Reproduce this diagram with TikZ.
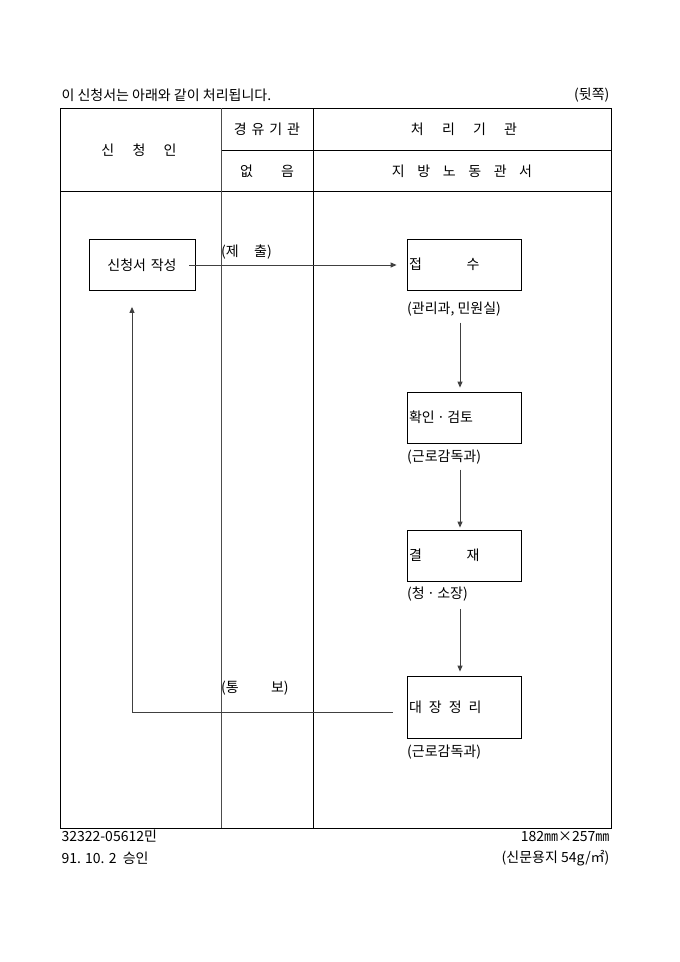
\documentclass[tikz,border=0pt]{standalone}
\usepackage{fontspec}
\setmainfont{Noto Sans CJK KR}
\usetikzlibrary{arrows.meta,positioning}

\begin{document}
\begin{tikzpicture}[x=1pt,y=-1pt,font=\fontsize{14}{16}\selectfont,
	stepbox/.style={draw,line width=.8pt,minimum width=114pt,minimum height=51pt,text width=110pt,align=left,inner xsep=2pt},
	flow/.style={line width=1pt,draw=black!75,-{Triangle[length=6pt,width=5pt]}}]
	\useasboundingbox (0,0) rectangle (680,962);

	% caption lines above and below the form
	\node[anchor=west] (title) at (58,95) {이 신청서는 아래와 같이 처리됩니다.};
	\node[anchor=east] (back) at (613,95) {(뒷쪽)};
	\node[anchor=west] (formno) at (58,836) {32322-05612민};
	\node[anchor=west] (approval) at (58,858) {91. 10. 2 \ 승인};
	\node[anchor=east] (papersize) at (613,836) {182㎜×257㎜};
	\node[anchor=east] (paper) at (613,858) {(신문용지 54g/㎡)};

	% form grid
	\draw[line width=.8pt] (60,108) rectangle (611,828);
	\draw[line width=.8pt] (60,191) -- (611,191);
	\draw[line width=.8pt] (221,150) -- (611,150);
	\draw[line width=.6pt,black!70] (221,108) -- (221,828);
	\draw[line width=.8pt] (313,108) -- (313,828);

	% header texts
	\node (applicant) at (139,150) {신\hspace{1.3em}청\hspace{1.3em}인};
	\node (via) at (267,129) {경\hspace{.35em}유\hspace{.35em}기\hspace{.35em}관};
	\node (none) at (267,171) {없\hspace{2em}음};
	\node (handler) at (464,129) {처\hspace{1.3em}리\hspace{1.3em}기\hspace{1.3em}관};
	\node (office) at (462,171) {지\hspace{.9em}방\hspace{.9em}노\hspace{.9em}동\hspace{.9em}관\hspace{.9em}서};

	% steps
	\node[stepbox,minimum width=106pt,text width=102pt,align=center] (write) at (142,265) {신청서 작성};
	\node[stepbox] (receive) at (464,264.5) {접\hspace{3.2em}수};
	\node[anchor=north west,inner sep=0pt] (receivedept) at (407,302) {(관리과, 민원실)};
	\node[stepbox] (review) at (464,417.5) {확인\,·\,검토};
	\node[anchor=north west,inner sep=0pt] (reviewdept) at (407,450) {(근로감독과)};
	\node[stepbox] (approve) at (464,555.5) {결\hspace{3.2em}재};
	\node[anchor=north west,inner sep=0pt] (approvedept) at (407,587) {(청\,·\,소장)};
	\node[stepbox,minimum height=62pt] (register) at (464,707) {대\hspace{.5em}장\hspace{.5em}정\hspace{.5em}리};
	\node[anchor=north west,inner sep=0pt] (registerdept) at (407,745) {(근로감독과)};

	% connectors
	\coordinate (lane) at (460,0);
	\draw[flow,shorten <=-6pt,shorten >=10pt] (write.east) -- (write.east -| receive.west);
	\node[anchor=south west,inner sep=0pt] (submit) at (221,259) {(제\hspace{1.1em}출)};
	\draw[flow,shorten <=6pt,shorten >=4pt] (receivedept.south -| lane) -- (review.north -| lane);
	\draw[flow,shorten <=5pt,shorten >=2pt] (reviewdept.south -| lane) -- (approve.north -| lane);
	\draw[flow,shorten <=7pt,shorten >=4pt] (approvedept.south -| lane) -- (register.north -| lane);
	\coordinate (backturn) at (132,712);
	\draw[flow,shorten <=14pt,shorten >=16pt] ([yshift=-5pt]register.west) -- (backturn) -- (write.south -| backturn);
	\node[anchor=south west,inner sep=0pt] (notify) at (221,695) {(통\hspace{2.3em}보)};
\end{tikzpicture}
\end{document}
